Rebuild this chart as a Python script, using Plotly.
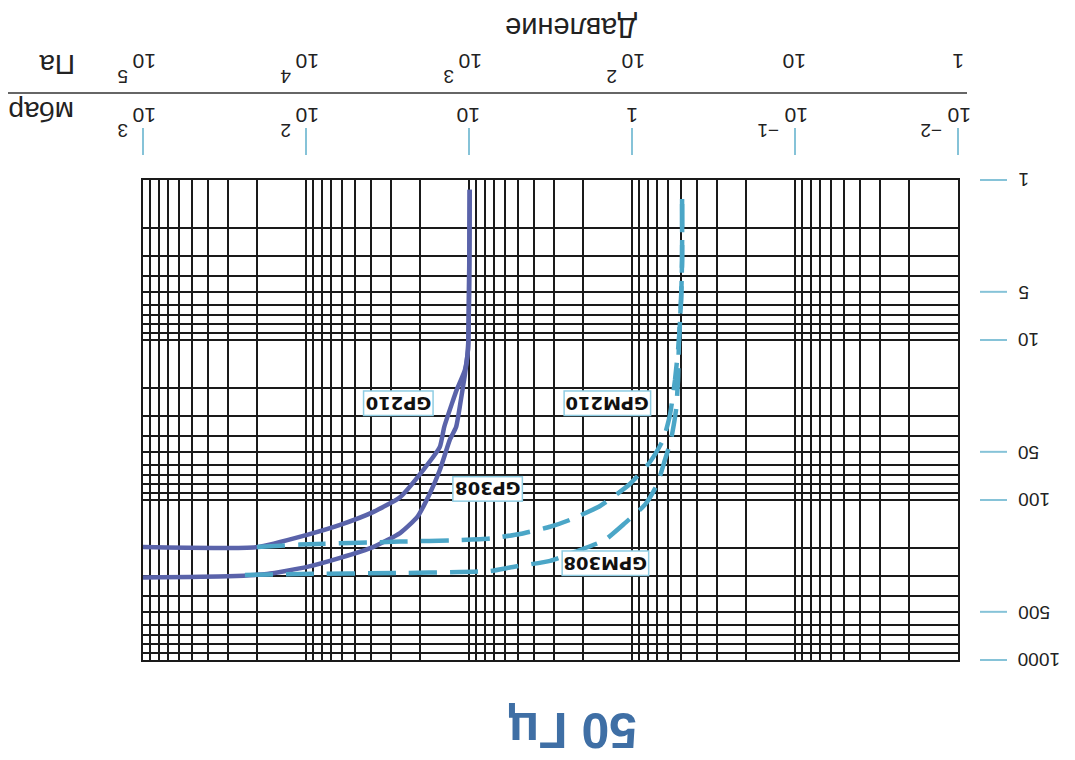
import math
import plotly.graph_objects as go

# ---------------- data (pressure in mbar, pumping speed) ----------------
p_gp210 = [1000, 200, 98.6, 61.8, 38.8, 26.5, 19.1, 15.1, 14.2, 12.7, 11.9, 10.6, 10.15, 9.9]
s_gp210 = [197, 197, 165, 143, 119, 96, 65, 46.6, 35, 24.8, 20.5, 15.4, 11.5, 1.15]

p_gp308 = [1000, 300, 173, 98.6, 61.8, 38.8, 26.5, 20.8, 17.3, 15.1, 13.1, 12.0, 11.3, 10.6, 10.15, 9.9]
s_gp308 = [305, 300, 290, 262, 230, 197, 161, 128, 90, 65, 42, 35, 24.8, 16.5, 11.5, 1.15]

p_gpm210 = [200, 109, 26.5, 11.4, 7.43, 4.87, 3.18, 2.40, 1.57, 1.03, 0.776, 0.645, 0.585, 0.545, 0.515, 0.50, 0.493, 0.493]
s_gpm210 = [197, 190, 182, 178, 174, 163, 147, 133, 109, 79.4, 57.9, 42.2, 29.4, 17.8, 10, 5.6, 3.16, 1.2]

p_gpm308 = [237, 109, 26.5, 11.4, 7.43, 5.37, 3.18, 2.24, 1.47, 1.10, 0.832, 0.703, 0.628, 0.577, 0.537, 0.522, 0.515, 0.50, 0.493, 0.493]
s_gpm308 = [294, 290, 286, 282, 278, 262, 240, 211, 178, 139, 107, 80.5, 56.2, 42.2, 27.4, 17.8, 10, 5.6, 3.16, 1.2]

series_names = ["GP210", "GP308", "GPM210", "GPM308"]
label_pos_p = [27.3, 7.64, 1.42, 1.45]      # label centres (mbar)
label_pos_s = [24.8, 85.3, 24.8, 248]       # label centres (speed)

mbar_ticks = [1000, 100, 10, 1, 0.1, 0.01]
# (base, exponent) for each tick label
mbar_labels = [("10", "3"), ("10", "2"), ("10", ""), ("1", ""), ("10", "−1"), ("10", "−2")]
pa_labels = [("10", "5"), ("10", "4"), ("10", "3"), ("10", "2"), ("10", ""), ("1", "")]

speed_ticks = [1, 5, 10, 50, 100, 500, 1000]
speed_labels = ["1", "5", "10", "50", "100", "500", "1000"]

title_text = "50 Гц"
axis_title = "Давление"
unit_pa = "Па"
unit_mbar = "мбар"

# ---------------- styles ----------------
SOLID = "#5a63aa"
DASH = "#4ba6c7"
TICKBLUE = "#86c3d8"
GRID = "#1a1a1a"
FONT = "Liberation Sans, Arial, sans-serif"
LABFONT = "DejaVu Sans, sans-serif"

X_RANGE = [3, -2]   # log10 mbar, reversed
Y_RANGE = [3, 0]    # log10 speed, reversed

# plot area geometry (figure px)
ML, MT, PW, PH = 135, 172, 815, 480
OFF = 8  # page body margin


def xfrac(v):
    return (math.log10(v) - X_RANGE[0]) / (X_RANGE[1] - X_RANGE[0])


def yfrac(v):
    return (math.log10(v) - Y_RANGE[0]) / (Y_RANGE[1] - Y_RANGE[0])


def px_x(p):
    return (p - OFF - ML) / PW


def px_y(p):
    return 1 - (p - OFF - MT) / PH


fig = go.Figure()
fig.add_trace(go.Scatter(x=p_gp210, y=s_gp210, mode="lines", name="GP210",
                         line=dict(color=SOLID, width=4.5, shape="spline", smoothing=0.5)))
fig.add_trace(go.Scatter(x=p_gp308, y=s_gp308, mode="lines", name="GP308",
                         line=dict(color=SOLID, width=4.5, shape="spline", smoothing=0.5)))
fig.add_trace(go.Scatter(x=p_gpm210, y=s_gpm210, mode="lines", name="GPM210",
                         line=dict(color=DASH, width=4.5, dash="28px,13px", shape="spline", smoothing=0.5)))
fig.add_trace(go.Scatter(x=p_gpm308, y=s_gpm308, mode="lines", name="GPM308",
                         line=dict(color=DASH, width=4.5, dash="28px,13px", shape="spline", smoothing=0.5)))

x_grid = [k * 10 ** d for d in range(-2, 3) for k in range(1, 10)] + [1000]
y_grid = [k * 10 ** d for d in range(0, 3) for k in range(1, 10)] + [1000]

axis_common = dict(type="log", showticklabels=False, ticks="", showgrid=True,
                   gridcolor=GRID, gridwidth=1.7, showline=True, mirror=True,
                   linecolor=GRID, linewidth=2, zeroline=False, tickmode="array")

fig.update_layout(
    width=1075, height=760,
    margin=dict(l=ML, r=1075 - ML - PW, t=MT, b=760 - MT - PH),
    paper_bgcolor="white", plot_bgcolor="white",
    showlegend=False,
    xaxis=dict(range=X_RANGE, tickvals=x_grid, **axis_common),
    yaxis=dict(range=Y_RANGE, tickvals=y_grid, **axis_common),
    font=dict(family=FONT, color="#222"),
)

ann = []
shapes = []

# series labels (upside-down, boxed)
for name, px, py in zip(series_names, label_pos_p, label_pos_s):
    ann.append(dict(x=math.log10(px), y=math.log10(py), xref="x", yref="y", text="<b>" + name + "</b>",
                    showarrow=False, textangle=180, xanchor="center", yanchor="middle",
                    font=dict(size=18, color="#111", family=LABFONT),
                    bgcolor="white", bordercolor="#8fcde3", borderwidth=1.5, borderpad=1))

# top axis labels (mbar and Pa rows) + ticks
for v, lm, lp in zip(mbar_ticks, mbar_labels, pa_labels):
    for (base, expo), yc in ((lm, px_y(115)), (lp, px_y(61))):
        ann.append(dict(x=math.log10(v), y=yc, xref="x", yref="paper", text=base,
                        showarrow=False, textangle=180, xanchor="center", yanchor="middle",
                        xshift=2 if expo else 0,
                        font=dict(size=21, color="#222", family=FONT)))
        if expo:
            ann.append(dict(x=math.log10(v), y=yc, xref="x", yref="paper", text=expo,
                            showarrow=False, textangle=180, xanchor="center", yanchor="middle",
                            xshift=-20 if len(expo) == 1 else -27, yshift=-15,
                            font=dict(size=19, color="#222", family=FONT)))
    shapes.append(dict(type="line", xref="paper", yref="paper", x0=xfrac(v), x1=xfrac(v),
                       y0=px_y(155), y1=px_y(128), line=dict(color=TICKBLUE, width=2)))

# right axis labels + ticks
for v, lab in zip(speed_ticks, speed_labels):
    ann.append(dict(x=px_x(1016), y=math.log10(v), xref="paper", yref="y", text=lab,
                    showarrow=False, textangle=180, xanchor="left", yanchor="middle",
                    font=dict(size=19, color="#222", family=FONT)))
    shapes.append(dict(type="line", xref="paper", yref="paper", x0=px_x(980), x1=px_x(1007),
                       y0=yfrac(v), y1=yfrac(v), line=dict(color=TICKBLUE, width=2)))

# separator line between Pa and mbar rows
shapes.append(dict(type="line", xref="paper", yref="paper", x0=px_x(5), x1=px_x(967),
                   y0=px_y(93), y1=px_y(93), line=dict(color="#333", width=1.6)))

# units
ann.append(dict(x=px_x(57), y=px_y(65), xref="paper", yref="paper", text=unit_pa, showarrow=False,
                textangle=180, xanchor="center", yanchor="middle",
                font=dict(size=28, color="#222", family=FONT)))
ann.append(dict(x=px_x(42), y=px_y(112), xref="paper", yref="paper", text=unit_mbar, showarrow=False,
                textangle=180, xanchor="center", yanchor="middle",
                font=dict(size=28, color="#222", family=FONT)))

# axis title (top) and chart title (bottom)
ann.append(dict(x=px_x(571), y=px_y(28), xref="paper", yref="paper", text=axis_title,
                showarrow=False, textangle=180, xanchor="center", yanchor="middle",
                font=dict(size=29, color="#222", family=FONT)))
ann.append(dict(x=px_x(573), y=px_y(730), xref="paper", yref="paper",
                text="<b>" + title_text + "</b>", showarrow=False, textangle=180,
                xanchor="center", yanchor="middle",
                font=dict(size=50, color="#3f6fa5", family=FONT)))

fig.update_layout(annotations=ann, shapes=shapes)
fig.write_html("out.html")
